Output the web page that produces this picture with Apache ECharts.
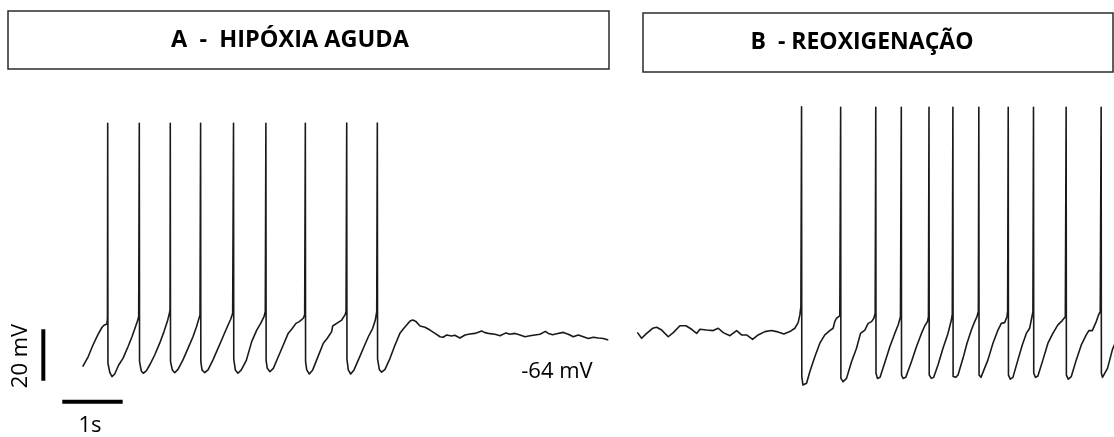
<!DOCTYPE html>
<html>
<head>
<meta charset="utf-8">
<title>Hipóxia aguda e reoxigenação</title>
<script src="https://cdn.jsdelivr.net/npm/echarts@6/dist/echarts.min.js"></script>
<style>
  html, body { margin: 0; padding: 0; background: #ffffff; }
  #chart { width: 1114px; height: 437px; }
</style>
</head>
<body>
<div id="chart"></div>
<script>
// Panel titles
const panelTitles = ['A  -  HIPÓXIA AGUDA', 'B  - REOXIGENAÇÃO'];

// Membrane potential traces: [time (s), potential (mV)]
const traceHipoxia = [
  [0.00,-75.9],[0.09,-72.1],[0.17,-67.5],[0.25,-63.6],[0.32,-60.6],[0.36,-59.7],[0.40,-59.3],[0.41,-57.1],
  [0.414,18.8],[0.418,-74.6],[0.45,-78.3],[0.485,-79.8],[0.53,-78.8],[0.596,-75.3],[0.667,-72.7],[0.75,-68.2],[0.816,-64.3],[0.871,-60.6],[0.904,-58.4],[0.927,-56.5],
  [0.937,18.8],[0.941,-74.0],[0.97,-77.6],[1.003,-78.5],[1.053,-77.6],[1.109,-75.3],[1.192,-71.4],[1.275,-66.8],[1.346,-62.3],[1.401,-58.4],[1.435,-55.2],[1.446,-53.9],
  [1.450,18.8],[1.454,-74.0],[1.484,-77.2],[1.523,-78.3],[1.578,-77.0],[1.66,-73.3],[1.743,-68.8],[1.826,-64.3],[1.881,-60.6],[1.926,-57.1],[1.942,-55.8],
  [1.952,18.8],[1.956,-74.0],[1.975,-77.2],[2.02,-78.3],[2.075,-77.2],[2.157,-73.3],[2.24,-68.8],[2.323,-64.3],[2.394,-60.4],[2.45,-57.5],[2.483,-55.2],
  [2.497,18.8],[2.501,-73.0],[2.527,-77.2],[2.571,-78.5],[2.626,-77.2],[2.709,-73.5],[2.798,-66.2],[2.881,-61.7],[2.947,-59.1],[3.002,-56.5],[3.023,-54.5],
  [3.033,18.8],[3.037,-73.6],[3.056,-76.6],[3.10,-77.9],[3.156,-76.6],[3.238,-72.1],[3.321,-67.5],[3.404,-62.9],[3.46,-61.4],[3.531,-59.1],[3.586,-58.4],[3.652,-57.1],[3.675,-55.8],
  [3.686,18.8],[3.690,-74.0],[3.709,-77.2],[3.752,-78.8],[3.808,-77.2],[3.884,-72.7],[3.984,-66.8],[4.05,-64.9],[4.122,-62.3],[4.139,-60.1],[4.205,-59.1],[4.288,-57.8],[4.343,-55.8],[4.36,-54.5],
  [4.371,18.9],[4.375,-73.0],[4.397,-77.2],[4.437,-78.8],[4.492,-77.2],[4.575,-72.7],[4.657,-68.2],[4.729,-64.3],[4.801,-61.0],[4.845,-57.8],[4.868,-54.5],
  [4.878,18.9],[4.882,-73.0],[4.911,-77.0],[4.95,-78.1],[5.005,-77.0],[5.088,-72.7],[5.171,-67.5],[5.253,-62.9],[5.30,-61.5],[5.364,-59.7],[5.42,-58.2],[5.464,-57.8],
  [5.518,-58.4],[5.585,-60.1],[5.667,-60.6],[5.75,-61.7],[5.833,-63.0],[5.916,-64.3],[5.97,-64.5],[6.026,-63.6],[6.108,-64.0],[6.16,-63.7],[6.245,-64.8],[6.33,-63.6],
  [6.41,-63.2],[6.495,-63.0],[6.606,-62.1],[6.66,-62.7],[6.745,-63.1],[6.826,-63.3],[6.91,-63.9],[7.008,-62.8],[7.075,-63.3],[7.157,-63.0],[7.229,-63.5],[7.323,-64.3],
  [7.406,-63.9],[7.488,-63.6],[7.571,-63.3],[7.661,-62.2],[7.71,-63.0],[7.781,-63.5],[7.847,-63.1],[7.957,-62.6],[8.04,-63.3],[8.123,-64.3],[8.205,-63.6],[8.288,-64.3],
  [8.372,-65.0],[8.454,-64.5],[8.537,-64.8],[8.62,-65.0],[8.702,-65.6]
];

const traceReoxigenacao = [
  [0,-62.6],[0.072,-64.9],[0.155,-63.0],[0.254,-61.0],[0.32,-60.6],[0.404,-61.7],[0.513,-64.3],[0.596,-62.7],[0.707,-60.0],[0.806,-60.0],[0.9,-61.4],[0.983,-63.0],
  [1.038,-61.4],[1.149,-61.7],[1.258,-61.9],[1.341,-61.0],[1.424,-62.7],[1.535,-63.9],[1.646,-61.9],[1.728,-63.6],[1.811,-63.6],[1.911,-65.3],[2.003,-63.6],[2.114,-62.3],
  [2.225,-61.9],[2.308,-62.3],[2.429,-63.2],[2.528,-62.3],[2.611,-61.0],[2.666,-58.8],[2.694,-55.8],[2.711,-52.6],
  [2.722,25.2],[2.726,-79.8],[2.745,-83.1],[2.765,-83.7],[2.805,-82.4],[2.859,-77.9],[2.942,-72.1],[3.025,-66.8],[3.108,-63.6],[3.19,-61.9],[3.245,-61.0],[3.273,-58.4],[3.301,-57.1],[3.328,-56.9],[3.356,-56.2],
  [3.37,25.0],[3.374,-80.5],[3.411,-81.8],[3.467,-80.5],[3.55,-74.0],[3.633,-68.8],[3.699,-63.0],[3.771,-61.7],[3.826,-59.1],[3.882,-58.4],[3.92,-57.1],[3.942,-55.2],
  [3.952,25.0],[3.956,-78.5],[3.98,-80.5],[4.023,-80.1],[4.106,-74.0],[4.185,-68.2],[4.267,-63.0],[4.323,-59.7],[4.361,-56.5],
  [4.375,25.0],[4.379,-79.2],[4.404,-80.5],[4.449,-80.1],[4.543,-74.0],[4.626,-68.2],[4.709,-63.0],[4.763,-60.1],[4.808,-58.4],[4.825,-56.5],
  [4.834,25.0],[4.838,-79.2],[4.874,-80.5],[4.912,-80.1],[4.983,-75.3],[5.066,-68.8],[5.149,-63.0],[5.205,-57.8],[5.22,-55.5],
  [5.23,25.0],[5.234,-79.8],[5.276,-80.1],[5.315,-79.2],[5.397,-72.7],[5.464,-66.8],[5.536,-61.7],[5.591,-58.4],[5.629,-56.5],[5.652,-54.5],
  [5.66,25.0],[5.664,-79.2],[5.695,-80.1],[5.728,-79.6],[5.811,-73.3],[5.894,-66.8],[5.977,-61.7],[6.033,-59.1],[6.087,-58.8],[6.126,-56.5],[6.137,-54.5],
  [6.147,25.0],[6.151,-79.2],[6.182,-80.8],[6.225,-80.1],[6.308,-73.3],[6.38,-67.5],[6.447,-63.0],[6.502,-61.0],[6.535,-57.1],[6.556,-54.5],
  [6.566,25.0],[6.57,-78.5],[6.6,-80.1],[6.639,-79.6],[6.722,-73.3],[6.805,-66.8],[6.887,-63.0],[6.97,-59.7],[7.043,-58.0],[7.093,-56.5],
  [7.107,25.0],[7.111,-79.2],[7.142,-80.8],[7.192,-79.8],[7.275,-73.3],[7.358,-67.5],[7.44,-63.6],[7.483,-61.9],[7.54,-61.9],[7.606,-58.4],[7.644,-55.8],[7.672,-54.5],
  [7.687,25.0],[7.691,-78.5],[7.709,-80.1],[7.742,-80.8],[7.792,-76.6],[7.875,-69.2],[7.94,-65.6]
];

// Calibration bars (20 mV, 1 s) in trace units
const scaleBarVoltage = [[-0.652,-81.4],[-0.652,-61.4]];
const scaleBarTime = [[-0.338,-89.6],[0.662,-89.6]];
const scaleLabels = ['20 mV', '1s'];
const restingLabel = '-64 mV';

const chart = echarts.init(document.getElementById('chart'), null, { renderer: 'canvas' });

const PX_PER_S = 60.4;
const gridTop = 94.4, gridHeight = 334.1;
const yRange = { min: -100, max: 30 };
const xRangeA = { min: -1, max: 9 };
const xRangeB = { min: 0, max: 7.9 };

const hiddenAxis = { type: 'value', show: false, splitLine: { show: false } };
const traceStyle = { color: '#1a1a1a', width: 1.6, join: 'round' };
const FONT = '"Open Sans", "Liberation Sans", sans-serif';

function lineSeries(data, idx, style) {
  return {
    type: 'line', data, xAxisIndex: idx, yAxisIndex: idx,
    showSymbol: false, symbol: 'none', smooth: false, animation: false,
    lineStyle: style, silent: true
  };
}

chart.setOption({
  backgroundColor: '#ffffff',
  animation: false,
  grid: [
    { left: 82.7 - PX_PER_S, top: gridTop, width: (xRangeA.max - xRangeA.min) * PX_PER_S, height: gridHeight },
    { left: 637.3, top: gridTop, width: (xRangeB.max - xRangeB.min) * PX_PER_S, height: gridHeight }
  ],
  xAxis: [
    Object.assign({ gridIndex: 0 }, hiddenAxis, xRangeA),
    Object.assign({ gridIndex: 1 }, hiddenAxis, xRangeB)
  ],
  yAxis: [
    Object.assign({ gridIndex: 0 }, hiddenAxis, yRange),
    Object.assign({ gridIndex: 1 }, hiddenAxis, yRange)
  ],
  series: [
    lineSeries(traceHipoxia, 0, traceStyle),
    lineSeries(traceReoxigenacao, 1, traceStyle),
    lineSeries(scaleBarVoltage, 0, { color: '#000000', width: 4, cap: 'butt' }),
    lineSeries(scaleBarTime, 0, { color: '#000000', width: 4, cap: 'butt' })
  ],
  graphic: [
    { type: 'rect', shape: { x: 8, y: 11, width: 601, height: 58 },
      style: { fill: '#ffffff', stroke: '#2b2b2b', lineWidth: 1.5 }, z: 1 },
    { type: 'text', x: 290, y: 40, z: 2,
      style: { text: panelTitles[0], font: 'bold 23.5px ' + FONT, fill: '#000000', align: 'center', verticalAlign: 'middle' } },
    { type: 'rect', shape: { x: 643, y: 13, width: 470, height: 59 },
      style: { fill: '#ffffff', stroke: '#2b2b2b', lineWidth: 1.5 }, z: 1 },
    { type: 'text', x: 862, y: 42, z: 2,
      style: { text: panelTitles[1], font: 'bold 23px ' + FONT, fill: '#000000', align: 'center', verticalAlign: 'middle' } },
    { type: 'text', x: 21, y: 356, rotation: Math.PI / 2, z: 2,
      style: { text: scaleLabels[0], font: '22px ' + FONT, fill: '#000000', align: 'center', verticalAlign: 'middle' } },
    { type: 'text', x: 90, y: 426, z: 2,
      style: { text: scaleLabels[1], font: '22px ' + FONT, fill: '#000000', align: 'center', verticalAlign: 'middle' } },
    { type: 'text', x: 557, y: 372, z: 2,
      style: { text: restingLabel, font: '22px ' + FONT, fill: '#000000', align: 'center', verticalAlign: 'middle' } }
  ]
});
</script>
</body>
</html>
